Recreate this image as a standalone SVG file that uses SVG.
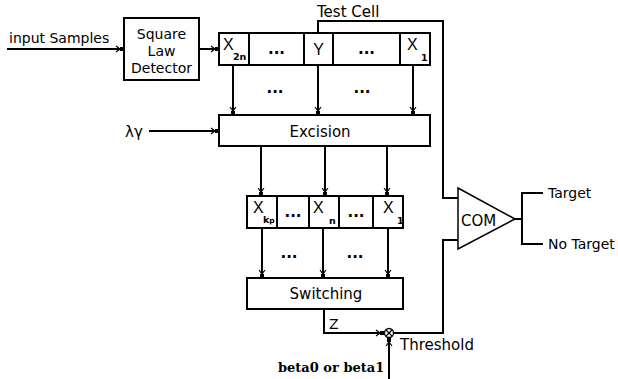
<svg xmlns="http://www.w3.org/2000/svg" width="618" height="379" viewBox="0 0 618 379">
<style>
.bx{fill:#fff;stroke:#000;stroke-width:2}
.ln{fill:none;stroke:#000;stroke-width:2}
.t{font-family:"DejaVu Sans",sans-serif;font-size:15px;fill:#000}
.x{font-family:"Liberation Sans",sans-serif;font-size:16px;fill:#000}
.s{font-family:"DejaVu Sans",sans-serif;font-size:9.5px;font-weight:bold;fill:#000}
.d{font-family:"DejaVu Sans",sans-serif;font-size:15px;font-weight:bold;fill:#000;text-anchor:middle}
.m{text-anchor:middle}
.b{font-family:"DejaVu Serif",serif;font-size:13px;font-weight:bold;fill:#000}
</style>
<defs>
<marker id="ah" markerUnits="userSpaceOnUse" viewBox="-9 -5 10 10" refX="0" refY="0" markerWidth="10" markerHeight="10" orient="auto">
<path d="M-8,-3 L-4,0 L-8,3" fill="none" stroke="#000" stroke-width="1.2"/>
<rect x="-4" y="-2" width="4" height="4" fill="#000"/>
</marker>
</defs>
<rect width="618" height="379" fill="#fff"/>

<g id="connectors">
<path class="ln" d="M7,49 H124" marker-end="url(#ah)"/>
<path class="ln" d="M199,49 H219" marker-end="url(#ah)"/>
<path class="ln" d="M233,65 V115" marker-end="url(#ah)"/>
<path class="ln" d="M318,65 V115" marker-end="url(#ah)"/>
<path class="ln" d="M413,65 V115" marker-end="url(#ah)"/>
<path class="ln" d="M149,131 H219" marker-end="url(#ah)"/>
<path class="ln" d="M261,146 V196" marker-end="url(#ah)"/>
<path class="ln" d="M325,146 V196" marker-end="url(#ah)"/>
<path class="ln" d="M387,146 V196" marker-end="url(#ah)"/>
<path class="ln" d="M262,228 V278" marker-end="url(#ah)"/>
<path class="ln" d="M323,228 V278" marker-end="url(#ah)"/>
<path class="ln" d="M388,228 V278" marker-end="url(#ah)"/>
<path class="ln" d="M318,33 V21 H443 V198 H458"/>
<path class="ln" d="M324,309 V333 H384" marker-end="url(#ah)"/>
<path class="ln" d="M389,379 V338" marker-end="url(#ah)"/>
<path class="ln" d="M394,333 H443 V240 H458"/>
<path class="ln" d="M515,219 H522 M522,193 V244 M521,193 H543 M521,244 H543"/>
<text class="d" x="275" y="93">...</text>
<text class="d" x="362" y="93">...</text>
<text class="d" x="289" y="258">...</text>
<text class="d" x="355" y="258">...</text>
<text class="t" x="329" y="329" style="font-size:14px">Z</text>
<text class="t" x="317" y="17">Test Cell</text>
<text class="t" x="9" y="43" style="font-size:14px">input Samples</text>
<text class="t" x="125" y="137" style="font-size:15px">λγ</text>
<text class="b" x="278" y="372">beta0 or beta1</text>
</g>

<g id="detector">
<rect class="bx" x="124" y="18" width="75" height="62"/>
<text class="t m" x="161.5" y="38.5" style="font-size:14px">Square</text>
<text class="t m" x="161.5" y="55.5" style="font-size:14px">Law</text>
<text class="t m" x="161.5" y="72.5" style="font-size:14px">Detector</text>
</g>

<g id="register1">
<rect class="bx" x="219" y="33" width="211" height="32"/>
<path class="ln" d="M249,33 V65 M304,33 V65 M333,33 V65 M400,33 V65"/>
<text class="x" x="223" y="50">X</text><text class="s" x="233" y="60">2n</text>
<text class="d" x="276.5" y="54">...</text>
<text class="x m" x="318.5" y="55">Y</text>
<text class="d" x="366.5" y="54">...</text>
<text class="x" x="407" y="50">X</text><text class="s" x="421" y="61">1</text>
</g>

<g id="excision">
<rect class="bx" x="219" y="115" width="211" height="31"/>
<text class="t m" x="320" y="137">Excision</text>
</g>

<g id="register2">
<rect class="bx" x="247" y="196" width="156" height="32"/>
<path class="ln" d="M277,196 V228 M309,196 V228 M339,196 V228 M373,196 V228"/>
<text class="x" x="253" y="213">X</text><text class="s" x="263" y="223">k<tspan font-size="7.5">p</tspan></text>
<text class="d" x="293" y="217">...</text>
<text class="x" x="313" y="213">X</text><text class="s" x="329" y="224">n</text>
<text class="d" x="356" y="217">...</text>
<text class="x" x="383" y="213">X</text><text class="s" x="397" y="224">1</text>
</g>

<g id="switching">
<rect class="bx" x="247" y="278" width="156" height="31"/>
<text class="t m" x="326" y="299">Switching</text>
</g>

<g id="multiplier">
<circle cx="389" cy="333" r="4.5" fill="#fff" stroke="#000" stroke-width="1.3"/>
<path d="M386,330 L392,336 M392,330 L386,336" stroke="#000" stroke-width="1.2"/>
<text class="t" x="400" y="350">Threshold</text>
</g>

<g id="comparator">
<polygon points="458,188 515,219 458,249" fill="#fff" stroke="#000" stroke-width="1.5"/>
<text class="t" x="461" y="226">COM</text>
</g>

<g id="outputs">
<text class="t" x="548" y="198" style="font-size:14px">Target</text>
<text class="t" x="548" y="249" style="font-size:14px">No Target</text>
</g>
</svg>
